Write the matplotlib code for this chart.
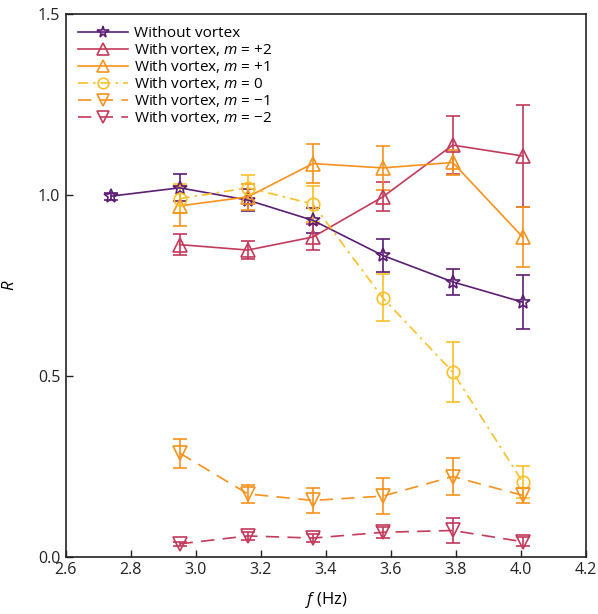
import matplotlib
matplotlib.use("Agg")
import matplotlib.pyplot as plt
from matplotlib.lines import Line2D

plt.rcParams['font.family'] = ['Open Sans', 'DejaVu Sans']
plt.rcParams['mathtext.fontset'] = 'custom'
plt.rcParams['mathtext.it'] = 'Open Sans:italic'
plt.rcParams['mathtext.rm'] = 'Open Sans'

# Data
f_wo = [2.74, 2.95, 3.16, 3.36, 3.575, 3.79, 4.005]
R_wo = [0.997, 1.02, 0.986, 0.93, 0.833, 0.760, 0.704]
E_wo = [0.01, 0.037, 0.03, 0.035, 0.045, 0.035, 0.075]

f_v = [2.95, 3.16, 3.36, 3.575, 3.79, 4.005]
R_p2 = [0.863, 0.848, 0.884, 0.995, 1.138, 1.108]
E_p2 = [0.03, 0.025, 0.035, 0.04, 0.08, 0.14]
R_p1 = [0.970, 0.995, 1.087, 1.075, 1.090, 0.884]
E_p1 = [0.056, 0.035, 0.055, 0.06, 0.035, 0.083]
R_0 = [0.990, 1.020, 0.975, 0.716, 0.511, 0.207]
E_0 = [0.04, 0.035, 0.05, 0.065, 0.083, 0.045]
R_m1 = [0.287, 0.174, 0.156, 0.168, 0.222, 0.170]
E_m1 = [0.04, 0.025, 0.035, 0.05, 0.05, 0.02]
R_m2 = [0.036, 0.058, 0.052, 0.068, 0.073, 0.042]
E_m2 = [0.006, 0.01, 0.01, 0.015, 0.035, 0.012]

labels = ['Without vortex', r'With vortex, $m$ = +2', r'With vortex, $m$ = +1',
          r'With vortex, $m$ = 0', r'With vortex, $m$ = −1', r'With vortex, $m$ = −2']

c_wo = '#5b1e73'
c_p2 = '#c23a5c'
c_p1 = '#f8921e'
c_0 = '#fbbf2a'
c_m1 = '#f8921e'
c_m2 = '#c23a5c'

fig = plt.figure(figsize=(5.98, 6.14), dpi=100)
ax = fig.add_axes([0.110, 0.093, 0.870, 0.884])

series = [
    (f_wo, R_wo, E_wo, c_wo, '*', '-', labels[0], 10),
    (f_v, R_p2, E_p2, c_p2, '^', '-', labels[1], 10),
    (f_v, R_p1, E_p1, c_p1, '^', '-', labels[2], 10),
    (f_v, R_0, E_0, c_0, 'o', (0, (6, 3, 1.5, 3)), labels[3], 9),
    (f_v, R_m1, E_m1, c_m1, 'v', (0, (8, 5)), labels[4], 10),
    (f_v, R_m2, E_m2, c_m2, 'v', (0, (8, 5)), labels[5], 10),
]
handles = []
for x, y, e, c, m, ls, lab, ms in series:
    ax.errorbar(x, y, yerr=e, color=c, marker=m, linestyle=ls,
                markersize=ms, markerfacecolor='none', markeredgewidth=1.2,
                linewidth=1.2, capsize=5, capthick=1.2, elinewidth=1.2)
    handles.append(Line2D([], [], color=c, marker=m, linestyle=ls, linewidth=1.2,
                          markersize=ms * 0.85, markerfacecolor='none',
                          markeredgewidth=1.2, label=lab))

ax.set_xlim(2.6, 4.2)
ax.set_ylim(0.0, 1.5)
ax.set_xticks([2.6, 2.8, 3.0, 3.2, 3.4, 3.6, 3.8, 4.0, 4.2])
ax.set_yticks([0.0, 0.5, 1.0, 1.5])
ax.tick_params(direction='in', labelsize=11.5, length=5, width=1, pad=4, colors='#222222')
for s in ax.spines.values():
    s.set_linewidth(1.2)
    s.set_color('#222222')
ax.set_xlabel(r'$f$ (Hz)', fontsize=12, labelpad=8)
ax.set_ylabel(r'$R$', fontsize=12, labelpad=14)

ax.legend(handles=handles, loc='upper left', frameon=False, fontsize=11,
          handlelength=3.3, handletextpad=0.35, labelspacing=0.0,
          borderaxespad=0.4, bbox_to_anchor=(0.0, 1.0))

fig.savefig('out.png', dpi=100)
